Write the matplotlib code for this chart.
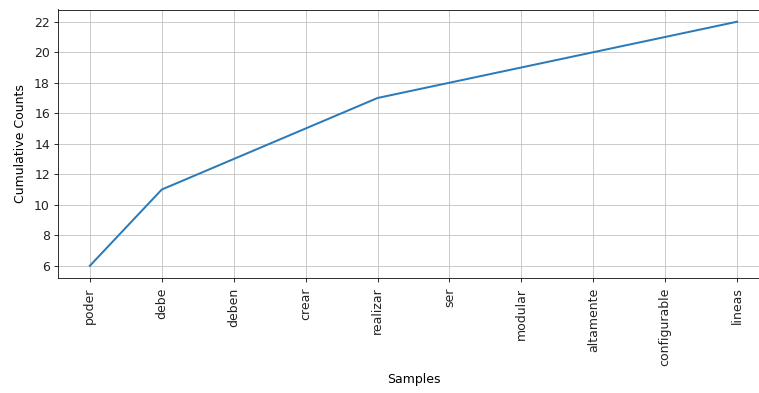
import matplotlib
matplotlib.use("Agg")
import matplotlib.pyplot as plt

# Word samples and their cumulative counts
samples = ["poder", "debe", "deben", "crear", "realizar", "ser",
           "modular", "altamente", "configurable", "lineas"]
cumulative = [6, 11, 13, 15, 17, 18, 19, 20, 21, 22]

plt.rcParams["font.size"] = 12.5
plt.rcParams["text.color"] = "#222222"
plt.rcParams["xtick.labelcolor"] = "#222222"
plt.rcParams["ytick.labelcolor"] = "#222222"

fig = plt.figure(figsize=(759 / 72, 393 / 72), dpi=72)
ax = fig.add_axes([57.5 / 759, 1 - 278 / 393, 712 / 759, 268.5 / 393])

ax.plot(range(len(samples)), cumulative, linewidth=2, color="#2b7bba")
ax.grid(True, color="silver")
ax.set_xticks(range(len(samples)))
ax.set_xticklabels(samples, rotation=90)
ax.tick_params(axis="x", pad=5.5, length=4)
ax.tick_params(axis="y", length=4)
ax.set_xlabel("Samples", labelpad=7)
ax.set_ylabel("Cumulative Counts", labelpad=7)

fig.savefig("out.png", dpi=72)
